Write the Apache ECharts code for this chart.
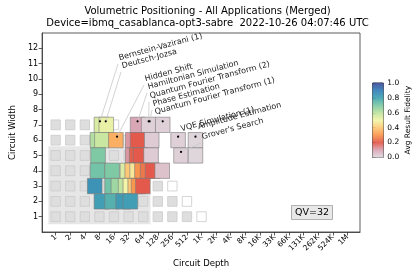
<!DOCTYPE html>
<html><head><meta charset="utf-8">
<script src="https://cdn.jsdelivr.net/npm/echarts@6/dist/echarts.min.js"></script>
<style>html,body{margin:0;padding:0;background:#fff}#c{width:415px;height:276px}</style>
</head><body><div id="c"></div>
<script>
// ---------------- data ----------------
const depthTickLabels = ['1','2','4','8','16','32','64','128','256','512','1K','2K','4K','8K','16K','33K','66K','131K','262K','524K','1M'];
const widthTicks = [1,2,3,4,5,6,7,8,9,10,11,12];
const fidelityTicks = [0,0.2,0.4,0.6,0.8,1.0];
// background squares: for each width, the largest log2(depth) drawn (last one is white)
const bgWidths      = [1, 2, 3, 4, 5, 6, 7];
const bgMaxDepthLog = [10, 9, 8, 7, 6, 5, 4];
const qvValue = 32;
const qvWidth = 5;
const qvDepthLog = 6;
// application result cells (depth, width, fidelity), in drawing order
const cellDepths = [
  8.8, 11.1, 49, 83, 162,
  7.3, 9.0, 17.5, 39, 49, 96, 336, 767,
  7.5, 39, 47, 56, 93, 386, 767,
  7.3, 14.6, 30.3, 38, 48, 60.3, 79, 100, 158,
  6.4, 14.6, 19.7, 27.7, 34.8, 43.8, 51.4, 63,
  8.8, 14.6, 24.7, 34.8
];
const cellWidths = [
  7,7,7,7,7,
  6,6,6,6,6,6,6,6,
  5,5,5,5,5,5,5,
  4,4,4,4,4,4,4,4,4,
  3,3,3,3,3,3,3,3,
  2,2,2,2
];
const cellFidelity = [
  0.55, 0.52, 0.10, 0.02, 0.02,
  0.62, 0.58, 0.35, 0.12, 0.20, 0.03, 0.02, 0.01,
  0.70, 0.12, 0.21, 0.20, 0.03, 0.02, 0.01,
  0.72, 0.70, 0.55, 0.40, 0.47, 0.30, 0.25, 0.20, 0.05,
  0.85, 0.72, 0.65, 0.60, 0.50, 0.40, 0.30, 0.20,
  0.82, 0.77, 0.83, 0.82
];
// annotations
const annotLabels = ['Bernstein-Vazirani (1)','Deutsch-Jozsa','Hidden Shift','Hamiltonian Simulation',
  'Quantum Fourier Transform (2)','Phase Estimation','Quantum Fourier Transform (1)','VQE Simulation (1)',
  'Amplitude Estimation',"Grover's Search"];
const annotDepths = [8.2, 10.8, 18.5, 49, 83, 87, 162, 336, 767, 386];
const annotWidths = [7, 7, 6, 7, 7, 7, 7, 6, 6, 5];

// ---------------- layout / style ----------------
const FONT = 'DejaVu Sans';
const X_MIN = -0.93, X_MAX = 20.86;
const textPos = [[120,62],[123,70],[146,83],[149,91],[151,100],[154,108],[156,116],[182,133],[199,131],[203,141]];
const cmap = ['#e0dbe0','#d9a6b6','#e35a4c','#f8954f','#fdc877','#f4f5a8','#bfe3a0','#7fcaa5','#44a5b2','#3681ba','#3f4e9b'];

const chart = echarts.init(document.getElementById('c'), null, {renderer:'canvas', width:415, height:276});

const bgData = [];
bgWidths.forEach((w,i)=>{ for(let k=0;k<=bgMaxDepthLog[i];k++) bgData.push([k, w, k===bgMaxDepthLog[i]?1:0]); });
const cellData = cellDepths.map((d,i)=>[Math.log2(d), cellWidths[i], cellFidelity[i]]);
const cbData = [];
for(let i=0;i<200;i++){ const v=(i+0.5)/200; cbData.push([0.5, v, v]); }

const option = {
  animation:false,
  backgroundColor:'#fff',
  textStyle:{fontFamily:FONT},
  title:{text:'Volumetric Positioning - All Applications (Merged)\nDevice=ibmq_casablanca-opt3-sabre  2022-10-26 04:07:46 UTC',
    left:'center', top:1, textStyle:{fontFamily:FONT, fontSize:10, fontWeight:'normal', color:'#000', lineHeight:11.5}},
  grid:[
    {left:31, top:33, width:329, height:199, show:true, borderColor:'#333', borderWidth:0.8, backgroundColor:'transparent'},
    {left:372.7, top:83, width:10.6, height:74.4, show:true, borderColor:'#000', borderWidth:0.8}
  ],
  xAxis:[
    {type:'value', gridIndex:0, min:X_MIN, max:X_MAX,
     axisLine:{show:true, onZero:false, lineStyle:{color:'#333', width:0.8}},
     axisTick:{show:true, customValues:depthTickLabels.map((_,i)=>i), length:3.5, lineStyle:{color:'#333', width:0.8}},
     axisLabel:{customValues:depthTickLabels.map((_,i)=>i), formatter:(v)=>depthTickLabels[Math.round(v)], rotate:45, fontSize:7.5, color:'#000', margin:4, fontFamily:FONT},
     splitLine:{show:false},
     name:'Circuit Depth', nameLocation:'middle', nameGap:26, nameTextStyle:{fontSize:8.5, color:'#000', fontFamily:FONT}},
    {type:'value', gridIndex:1, min:0, max:1, show:false}
  ],
  yAxis:[
    {type:'value', gridIndex:0, min:0, max:13,
     axisLine:{show:true, onZero:false, lineStyle:{color:'#333', width:0.8}},
     axisTick:{show:true, customValues:widthTicks, length:3.5, lineStyle:{color:'#333', width:0.8}},
     axisLabel:{customValues:widthTicks, fontSize:8, color:'#000', margin:4, fontFamily:FONT},
     splitLine:{show:false},
     name:'Circuit Width', nameLocation:'middle', nameGap:18, nameTextStyle:{fontSize:8.5, color:'#000', fontFamily:FONT}},
    {type:'value', gridIndex:1, min:0, max:1, interval:0.2, position:'right',
     axisLine:{show:false},
     axisTick:{show:true, length:3, lineStyle:{color:'#000', width:0.8}},
     axisLabel:{fontSize:7.5, color:'#000', margin:4, formatter:(v)=>v.toFixed(1), fontFamily:FONT},
     splitLine:{show:false},
     name:'Avg Result Fidelity', nameLocation:'middle', nameRotate:90, nameGap:21, nameTextStyle:{fontSize:7.5, color:'#000', fontFamily:FONT}}
  ],
  visualMap:{type:'continuous', show:false, min:0, max:1, dimension:2, seriesIndex:[2,3], inRange:{color:cmap}},
  series:[
    {type:'custom', xAxisIndex:0, yAxisIndex:0, silent:true, z:1,
     data:[[0]],
     renderItem:(p, api)=>{
       const a=api.coord([-0.5, qvWidth+0.6]), b=api.coord([qvDepthLog+0.5, 0.5]);
       return {type:'rect', shape:{x:a[0], y:a[1], width:b[0]-a[0], height:b[1]-a[1]}, style:{fill:'#e6e6e6', stroke:null}};
     }},
    {type:'custom', xAxisIndex:0, yAxisIndex:0, silent:true, z:2,
     data:bgData, encode:{x:0,y:1},
     renderItem:(p, api)=>{
       const x=api.value(0), y=api.value(1), s=0.32;
       const a=api.coord([x-s, y+s]), b=api.coord([x+s, y-s]);
       const white = api.value(2)===1;
       return {type:'rect', shape:{x:a[0], y:a[1], width:b[0]-a[0], height:b[1]-a[1]}, style:{fill: white?'#ffffff':'#dedede', stroke:'#cacaca', lineWidth:0.8}};
     }},
    {type:'custom', xAxisIndex:0, yAxisIndex:0, silent:true, z:3,
     data:cellData, encode:{x:0,y:1},
     renderItem:(p, api)=>{
       const x=api.value(0), y=api.value(1);
       const a=api.coord([x-0.5, y+0.5]), b=api.coord([x+0.5, y-0.5]);
       return {type:'rect', shape:{x:a[0], y:a[1], width:b[0]-a[0], height:b[1]-a[1]}, style:{fill:api.visual('color'), stroke:'#7a7a7a', lineWidth:0.6}};
     }},
    {type:'custom', xAxisIndex:1, yAxisIndex:1, silent:true, z:3,
     data:cbData, encode:{x:0,y:1},
     renderItem:(p, api)=>{
       const v=api.value(1), h=0.5/200+0.002;
       const a=api.coord([0, v+h]), b=api.coord([1, v-h]);
       return {type:'rect', shape:{x:a[0], y:a[1], width:b[0]-a[0], height:b[1]-a[1]}, style:{fill:api.visual('color'), stroke:null}};
     }}
  ]
};
chart.setOption(option);

// annotations (leader line + dot + rotated label)
const gfx = [];
annotLabels.forEach((lab,i)=>{
  const pt = chart.convertToPixel({gridIndex:0}, [Math.log2(annotDepths[i]), annotWidths[i]+0.23]);
  const tp = textPos[i];
  gfx.push({type:'line', shape:{x1:tp[0]-2, y1:tp[1]+2, x2:pt[0], y2:pt[1]}, style:{stroke:'#c8c8c8', lineWidth:0.8}, z:10, silent:true});
  gfx.push({type:'circle', shape:{cx:pt[0], cy:pt[1], r:1.1}, style:{fill:'#000'}, z:11, silent:true});
  gfx.push({type:'text', x:tp[0], y:tp[1], rotation:15*Math.PI/180, originX:0, originY:0,
    style:{text:lab, fontSize:8, fontFamily:FONT, fill:'#222', textAlign:'left', textVerticalAlign:'bottom'}, z:12, silent:true});
});
// QV box
gfx.push({type:'text', x:312, y:212.5, style:{text:'QV='+qvValue, fontSize:9.5, fontFamily:FONT, fill:'#000', textAlign:'center', textVerticalAlign:'middle',
  backgroundColor:'#e8e8e8', borderColor:'#999', borderWidth:0.8, padding:[2,3,1,3]}, z:12, silent:true});
chart.setOption({graphic:gfx});
</script></body></html>
